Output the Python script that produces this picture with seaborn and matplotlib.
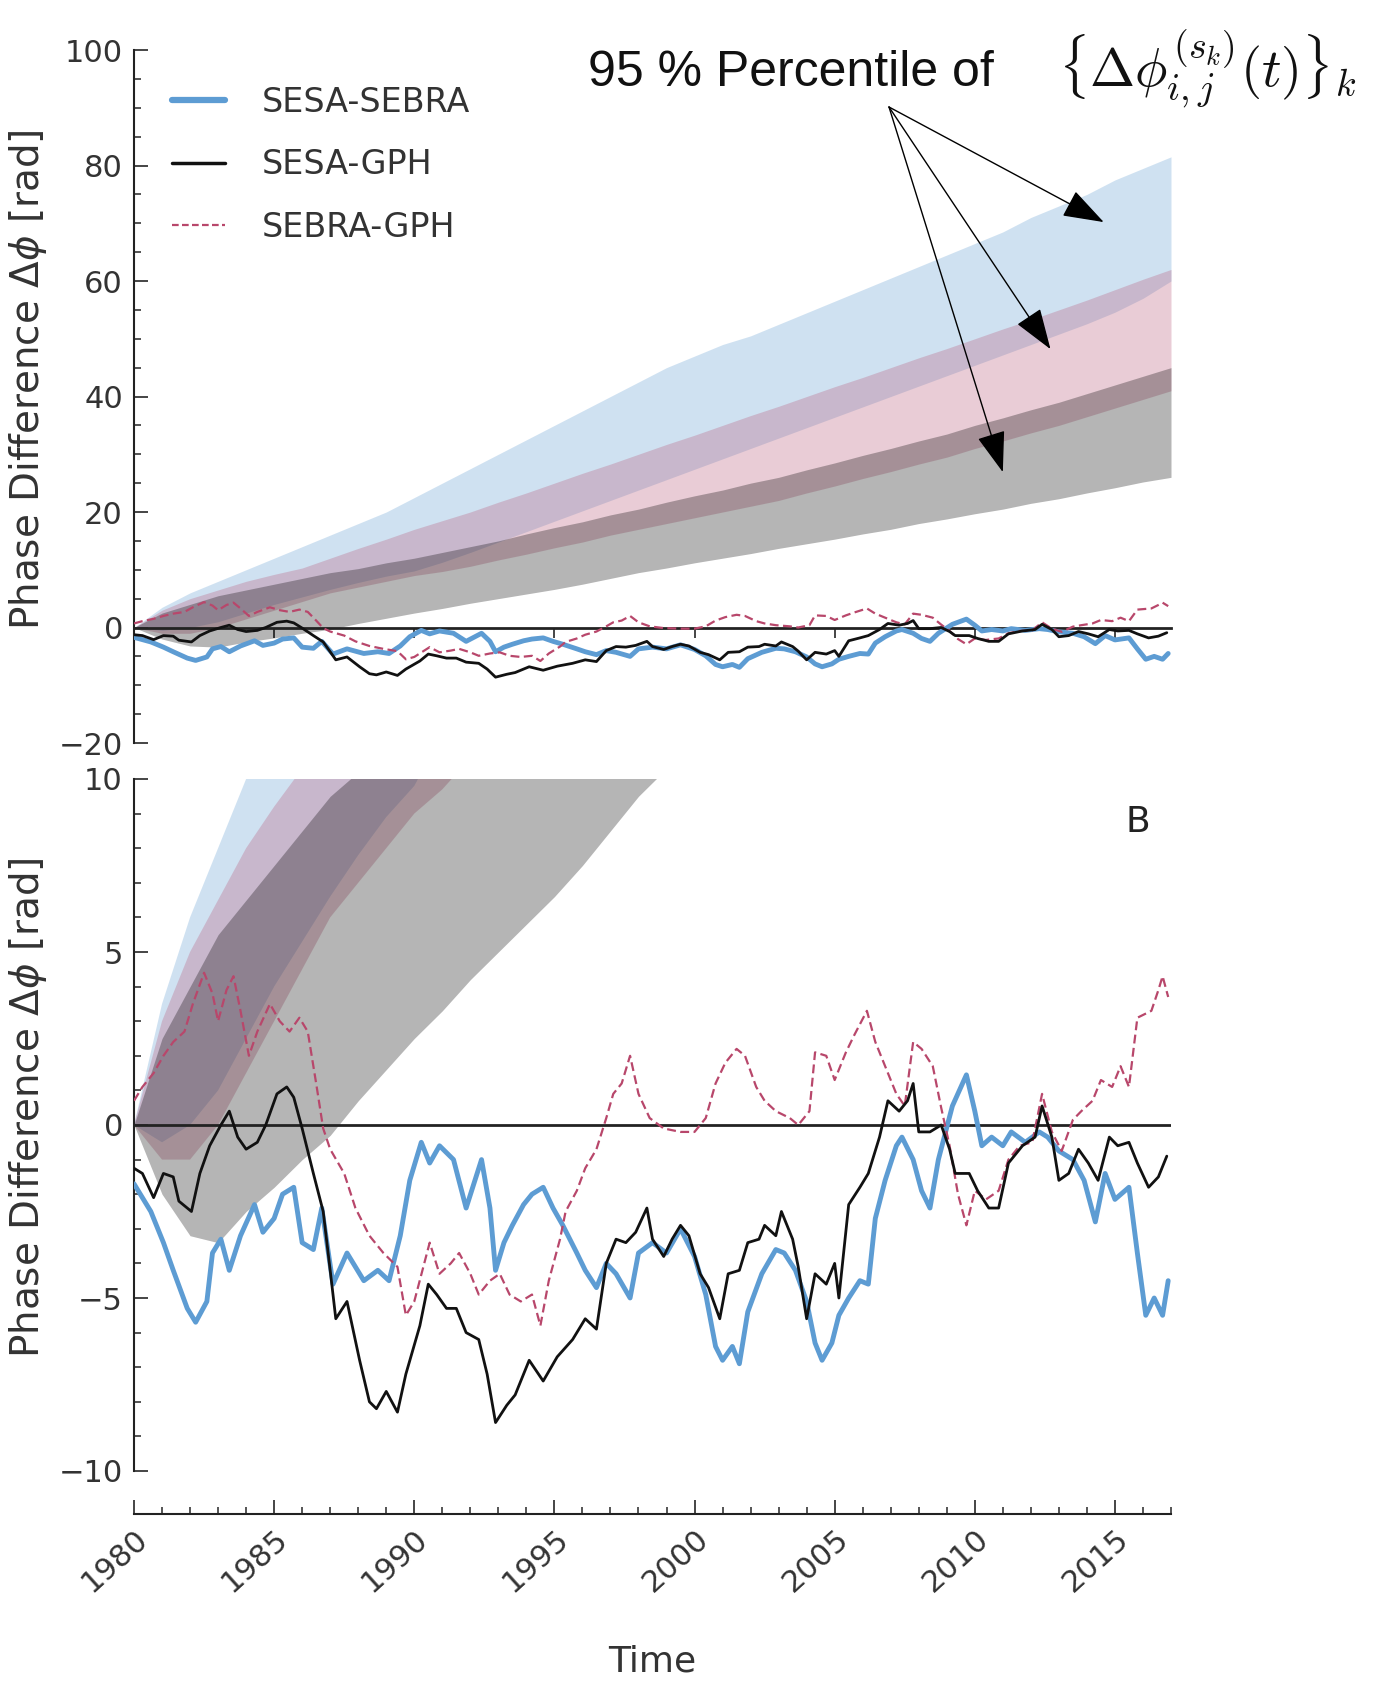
import matplotlib
matplotlib.use('Agg')
import matplotlib.pyplot as plt
from matplotlib import font_manager
from matplotlib.lines import Line2D
from matplotlib.ticker import MultipleLocator
import seaborn as sns

# ---------------- data ----------------
band_years = list(range(1980, 2018))

# 95 % percentile bands of the surrogates, one value per year
sesa_sebra_hi = [0, 3.5, 6, 8, 10, 12, 14, 16, 18, 20, 22.5, 25, 27.5, 30, 32.5, 35, 37.5, 40, 42.5,
                 45, 47, 49, 50.5, 52.5, 54.5, 56.5, 58.5, 60.5, 62.5, 64.5, 66.5, 68.5, 71, 73, 75,
                 77.5, 79.5, 81.5]
sesa_sebra_lo = [0, -0.5, 0, 1, 2.5, 4, 5.3, 6.6, 7.8, 8.9, 9.8, 11.3, 13, 14.8, 16.6, 18.4, 20.2,
                 22, 23.8, 25.6, 27.4, 29.2, 31, 32.8, 34.6, 36.4, 38.2, 40, 41.8, 43.6, 45.4, 47.2,
                 49, 50.8, 52.6, 54.6, 57, 60]
sebra_gph_hi = [0, 3, 5, 6.5, 8, 9.2, 10.3, 12, 13.7, 15.3, 17, 18.5, 20, 21.7, 23.3, 25, 26.7, 28.3,
                30, 31.7, 33.3, 35, 36.7, 38.3, 40, 41.7, 43.3, 45, 46.7, 48.3, 50, 51.7, 53.3, 55,
                56.7, 58.5, 60.3, 62]
sebra_gph_lo = [0, -1, -1, 0, 1.5, 3, 4.5, 6, 7, 8, 9, 9.7, 10.6, 11.7, 12.7, 13.8, 14.8, 16, 17, 18,
                19, 20, 21, 22, 23.3, 24.5, 25.8, 27, 28.3, 29.5, 31, 32.3, 33.7, 35, 36.5, 38, 39.5, 41]
sesa_gph_hi = [0, 2.5, 4, 5.5, 6.5, 7.5, 8.5, 9.5, 10.2, 11.2, 12, 13, 14, 15, 16.2, 17.3, 18.3, 19.5,
               20.5, 21.7, 22.8, 23.8, 25, 26, 27.3, 28.5, 29.8, 31, 32.3, 33.5, 35, 36.3, 37.7, 39,
               40.5, 42, 43.5, 45]
sesa_gph_lo = [0, -2, -3.2, -3.4, -2.5, -1.8, -1, -0.3, 0.7, 1.6, 2.5, 3.3, 4.2, 5, 5.8, 6.6, 7.5,
               8.5, 9.5, 10.3, 11.2, 12, 12.8, 13.7, 14.5, 15.3, 16.2, 17, 18, 18.8, 19.7, 20.5,
               21.5, 22.3, 23.3, 24.2, 25.2, 26]

# observed phase differences
t_sesa_sebra = [1980.0, 1980.6, 1981.05, 1981.4, 1981.9, 1982.2, 1982.6, 1982.8, 1983.1, 1983.4,
                1983.8, 1984.3, 1984.6, 1985.0, 1985.3, 1985.7, 1986.0, 1986.4, 1986.7, 1987.1,
                1987.6, 1988.2, 1988.7, 1989.1, 1989.5, 1989.84, 1990.25, 1990.55, 1990.9, 1991.4,
                1991.85, 1992.4, 1992.7, 1992.9, 1993.2, 1993.5, 1993.9, 1994.2, 1994.6, 1994.95,
                1995.3, 1995.8, 1996.1, 1996.5, 1996.85, 1997.2, 1997.7, 1998.0, 1998.5, 1999.0,
                1999.5, 2000.0, 2000.4, 2000.75, 2001.0, 2001.35, 2001.6, 2001.9, 2002.4, 2002.9,
                2003.2, 2003.6, 2004.0, 2004.3, 2004.55, 2004.9, 2005.15, 2005.5, 2005.9, 2006.2,
                2006.45, 2006.8, 2007.2, 2007.4, 2007.8, 2008.1, 2008.4, 2008.7, 2009.2, 2009.7,
                2010.0, 2010.25, 2010.6, 2011.0, 2011.3, 2011.8, 2012.3, 2012.6, 2013.0, 2013.5,
                2013.9, 2014.3, 2014.65, 2015.0, 2015.5, 2015.8, 2016.1, 2016.4, 2016.7, 2016.9]
sesa_sebra = [-1.7, -2.5, -3.4, -4.2, -5.3, -5.7, -5.1, -3.7, -3.3, -4.2,
              -3.2, -2.3, -3.1, -2.7, -2.0, -1.8, -3.4, -3.6, -2.4, -4.6,
              -3.7, -4.5, -4.2, -4.5, -3.2, -1.6, -0.5, -1.1, -0.6, -1.0,
              -2.4, -1.0, -2.4, -4.2, -3.4, -2.9, -2.3, -2.0, -1.8, -2.4,
              -2.9, -3.7, -4.2, -4.7, -4.0, -4.3, -5.0, -3.7, -3.4, -3.7,
              -3.0, -3.8, -4.9, -6.4, -6.8, -6.4, -6.9, -5.4, -4.3, -3.6,
              -3.7, -4.2, -5.1, -6.3, -6.8, -6.3, -5.5, -5.0, -4.5, -4.6,
              -2.7, -1.6, -0.6, -0.35, -1.0, -1.9, -2.4, -1.0, 0.55, 1.45,
              0.4, -0.6, -0.35, -0.6, -0.2, -0.5, -0.2, -0.35, -0.75, -1.0,
              -1.6, -2.8, -1.4, -2.15, -1.8, -3.7, -5.5, -5.0, -5.5, -4.5]

t_sesa_gph = [1980.0, 1980.3, 1980.7, 1981.05, 1981.4, 1981.6, 1982.05, 1982.35, 1982.7, 1983.1,
              1983.4, 1983.7, 1984.0, 1984.4, 1984.7, 1985.1, 1985.45, 1985.7, 1986.0, 1986.4,
              1986.75, 1987.0, 1987.2, 1987.6, 1988.05, 1988.4, 1988.65, 1989.0, 1989.4, 1989.7,
              1990.2, 1990.5, 1990.8, 1991.15, 1991.5, 1991.85, 1992.3, 1992.6, 1992.9, 1993.3,
              1993.6, 1994.1, 1994.6, 1995.1, 1995.65, 1996.1, 1996.5, 1996.85, 1997.2, 1997.55,
              1997.9, 1998.3, 1998.5, 1998.9, 1999.2, 1999.5, 1999.8, 2000.2, 2000.5, 2000.9,
              2001.2, 2001.6, 2001.9, 2002.3, 2002.5, 2002.9, 2003.1, 2003.5, 2003.7, 2004.0,
              2004.3, 2004.7, 2005.0, 2005.15, 2005.5, 2005.9, 2006.2, 2006.6, 2006.9, 2007.3,
              2007.6, 2007.8, 2008.0, 2008.4, 2008.8, 2009.1, 2009.3, 2009.8, 2010.1, 2010.5,
              2010.85, 2011.2, 2011.7, 2012.15, 2012.4, 2012.75, 2013.0, 2013.35, 2013.7, 2014.05,
              2014.4, 2014.8, 2015.1, 2015.5, 2015.8, 2016.2, 2016.55, 2016.85]
sesa_gph = [-1.25, -1.4, -2.1, -1.4, -1.5, -2.2, -2.5, -1.4, -0.6, 0.0,
            0.4, -0.35, -0.7, -0.5, 0.0, 0.9, 1.1, 0.8, -0.1, -1.4,
            -2.5, -4.2, -5.6, -5.1, -6.8, -8.0, -8.2, -7.7, -8.3, -7.2,
            -5.8, -4.6, -4.9, -5.3, -5.3, -6.0, -6.2, -7.2, -8.6, -8.1,
            -7.8, -6.8, -7.4, -6.7, -6.2, -5.6, -5.9, -4.0, -3.3, -3.4,
            -3.1, -2.4, -3.3, -3.8, -3.3, -2.9, -3.2, -4.3, -4.7, -5.6,
            -4.3, -4.2, -3.4, -3.3, -2.9, -3.2, -2.5, -3.3, -4.1, -5.6,
            -4.3, -4.6, -4.0, -5.0, -2.3, -1.8, -1.4, -0.35, 0.7, 0.4,
            0.7, 1.2, -0.2, -0.2, 0.0, -0.7, -1.4, -1.4, -1.9, -2.4,
            -2.4, -1.1, -0.6, -0.35, 0.55, -0.35, -1.6, -1.4, -0.7, -1.1,
            -1.6, -0.35, -0.6, -0.5, -1.1, -1.8, -1.5, -0.9]

t_sebra_gph = [1980.0, 1980.3, 1980.7, 1981.05, 1981.4, 1981.8, 1982.1, 1982.5, 1982.8, 1983.0,
               1983.3, 1983.55, 1983.8, 1984.1, 1984.4, 1984.85, 1985.2, 1985.55, 1985.9, 1986.2,
               1986.5, 1986.75, 1987.0, 1987.5, 1987.9, 1988.4, 1988.9, 1989.4, 1989.7, 1990.0,
               1990.55, 1990.9, 1991.3, 1991.6, 1992.0, 1992.3, 1992.7, 1993.05, 1993.4, 1993.8,
               1994.2, 1994.5, 1994.8, 1995.2, 1995.4, 1995.8, 1996.1, 1996.5, 1996.85, 1997.1,
               1997.4, 1997.7, 1998.0, 1998.4, 1998.9, 1999.5, 2000.0, 2000.4, 2000.75, 2001.1,
               2001.5, 2001.8, 2002.2, 2002.5, 2002.9, 2003.4, 2003.7, 2004.1, 2004.3, 2004.7,
               2005.0, 2005.4, 2005.7, 2006.15, 2006.45, 2006.8, 2007.2, 2007.5, 2007.8, 2008.1,
               2008.5, 2008.8, 2009.1, 2009.4, 2009.7, 2010.0, 2010.4, 2010.85, 2011.2, 2011.6,
               2012.05, 2012.4, 2012.75, 2013.1, 2013.5, 2013.8, 2014.2, 2014.5, 2014.9, 2015.2,
               2015.5, 2015.8, 2016.3, 2016.55, 2016.7, 2016.9]
sebra_gph = [0.7, 1.1, 1.5, 2.0, 2.4, 2.7, 3.5, 4.4, 3.8, 3.0,
             3.9, 4.3, 3.3, 2.0, 2.7, 3.5, 3.0, 2.7, 3.1, 2.7,
             1.2, -0.1, -0.7, -1.4, -2.4, -3.2, -3.7, -4.1, -5.5, -5.1,
             -3.4, -4.3, -4.0, -3.7, -4.3, -4.9, -4.5, -4.3, -4.9, -5.1,
             -4.9, -5.8, -4.5, -3.3, -2.5, -1.9, -1.25, -0.7, 0.2, 0.9,
             1.2, 2.0, 0.9, 0.2, -0.1, -0.2, -0.2, 0.2, 1.2, 1.8,
             2.2, 2.0, 1.1, 0.7, 0.4, 0.2, 0.0, 0.4, 2.1, 2.0,
             1.3, 2.1, 2.6, 3.3, 2.4, 1.7, 0.9, 0.55, 2.4, 2.2,
             1.7, 0.5, -0.6, -2.0, -2.9, -1.9, -2.15, -1.9, -1.0, -0.6,
             -0.5, 0.9, -0.2, -0.75, 0.15, 0.4, 0.7, 1.3, 1.1, 1.7,
             1.1, 3.1, 3.3, 3.9, 4.3, 3.7]

x_tick_years = [1980, 1985, 1990, 1995, 2000, 2005, 2010, 2015]
series_labels = ['SESA-SEBRA', 'SESA-GPH', 'SEBRA-GPH']

# ---------------- style ----------------
sns.set_style('ticks', {'xtick.direction': 'in', 'ytick.direction': 'in'})
plt.rcParams['font.family'] = ['DejaVu Sans']
plt.rcParams['axes.edgecolor'] = '#222222'
plt.rcParams['axes.linewidth'] = 1.5

col_blue = '#5d9cd3'
col_black = '#111111'
col_pink = '#b8476b'
txt_col = '#333333'

W, H = 1380, 1684
fig = plt.figure(figsize=(W / 100, H / 100), dpi=100)
left, width = 134 / W, (1171 - 134) / W
ax2 = fig.add_axes([left, 1 - 1471 / H, width, 692 / H])
ax1 = fig.add_axes([left, 1 - 743 / H, width, 693 / H], sharex=ax2)


def draw_panel(ax):
    ax.fill_between(band_years, sesa_sebra_lo, sesa_sebra_hi, color='#6fa6d6', alpha=0.33, lw=0, zorder=1)
    ax.fill_between(band_years, sebra_gph_lo, sebra_gph_hi, color='#b85878', alpha=0.30, lw=0, zorder=1.1)
    ax.fill_between(band_years, sesa_gph_lo, sesa_gph_hi, color='black', alpha=0.29, lw=0, zorder=1.2)
    sns.lineplot(x=t_sesa_sebra, y=sesa_sebra, ax=ax, color=col_blue, lw=3.5, zorder=3)
    sns.lineplot(x=t_sesa_gph, y=sesa_gph, ax=ax, color=col_black, lw=2, zorder=3.2)
    sns.lineplot(x=t_sebra_gph, y=sebra_gph, ax=ax, color=col_pink, lw=1.6,
                 linestyle=(0, (4, 2)), zorder=3.1)


draw_panel(ax1)
draw_panel(ax2)

# top panel: full range
ax1.set_ylim(-20, 100)
ax1.yaxis.set_major_locator(MultipleLocator(20))
ax1.yaxis.set_minor_locator(MultipleLocator(5))
ax1.spines['top'].set_visible(False)
ax1.spines['right'].set_visible(False)
ax1.spines['bottom'].set_position(('data', 0))
ax1.spines['bottom'].set_linewidth(2)
ax1.tick_params(axis='x', which='major', direction='out', length=7, width=1.2, labelbottom=False)
ax1.tick_params(axis='x', which='minor', bottom=False)

# bottom panel: zoom
ax2.set_ylim(-10, 10)
ax2.set_xlim(1980, 2017)
ax2.yaxis.set_major_locator(MultipleLocator(5))
ax2.yaxis.set_minor_locator(MultipleLocator(1))
ax2.xaxis.set_minor_locator(MultipleLocator(1))
ax2.set_xticks(x_tick_years)
ax2.set_xticklabels([str(y) for y in x_tick_years])
ax2.axhline(0, color='#222222', lw=2, zorder=2.5)
ax2.spines['top'].set_visible(False)
ax2.spines['right'].set_visible(False)
ax2.spines['bottom'].set_position(('outward', 31))
ax2.tick_params(axis='x', which='major', length=10, width=1.2, labelsize=22, labelcolor=txt_col, pad=7)
ax2.tick_params(axis='x', which='minor', length=5, width=1.1)
for lab in ax2.get_xticklabels():
    lab.set_rotation(42)
    lab.set_ha('right')
    lab.set_rotation_mode('anchor')

for ax in (ax1, ax2):
    ax.tick_params(axis='y', which='major', length=10, width=1.2, labelsize=22, labelcolor=txt_col, pad=8)
    ax.tick_params(axis='y', which='minor', length=5, width=1.1)
    ax.set_ylabel(r'Phase Difference $\Delta\phi$ [rad]', fontsize=28, color=txt_col)
    ax.yaxis.set_label_coords(-0.082, 0.525)

ax2.set_xlabel('Time', fontsize=26, color=txt_col)
ax2.xaxis.set_label_coords(0.5, -0.25)
ax2.text(0.968, 0.938, 'B', transform=ax2.transAxes, fontsize=26, color='#222222',
         ha='center', va='center')

# legend
handles = [Line2D([], [], color=col_blue, lw=4.5),
           Line2D([], [], color=col_black, lw=2.5),
           Line2D([], [], color=col_pink, lw=1.6, linestyle=(0, (3, 1.5)))]
ax1.legend(handles, series_labels, loc='upper left', bbox_to_anchor=(172 / W, 1 - 86 / H),
           bbox_transform=fig.transFigure, frameon=False, fontsize=24, handlelength=1.6,
           handletextpad=1.1, labelspacing=0.88, borderpad=0, borderaxespad=0, labelcolor=txt_col)

# annotation with arrows
names = {f.name for f in font_manager.fontManager.ttflist}
if 'Liberation Sans Narrow' in names:
    note_family, note_size = 'Liberation Sans Narrow', 44
else:
    note_family, note_size = 'Liberation Sans', 36
fig.text(588 / W, 1 - 86 / H, '95 % Percentile of', family=note_family, fontsize=note_size,
         color='#111111', ha='left', va='baseline')
fig.text(1058 / W, 1 - 86 / H, r'$\{\Delta\phi_{i,j}^{(s_k)}(t)\}_k$', fontsize=39,
         math_fontfamily='cm', color='#111111', ha='left', va='baseline')

arrow_tips = [(2014.6, 70.2), (2012.7, 48.2), (2011.0, 26.9)]
for tip in arrow_tips:
    ax1.annotate('', xy=tip, xycoords='data', xytext=(889, H - 107), textcoords='figure pixels',
                 arrowprops=dict(arrowstyle='-|>,head_length=1.3,head_width=0.45', color='black',
                                 lw=1, mutation_scale=20, shrinkA=0, shrinkB=0))

fig.savefig('out.png', dpi=100)
